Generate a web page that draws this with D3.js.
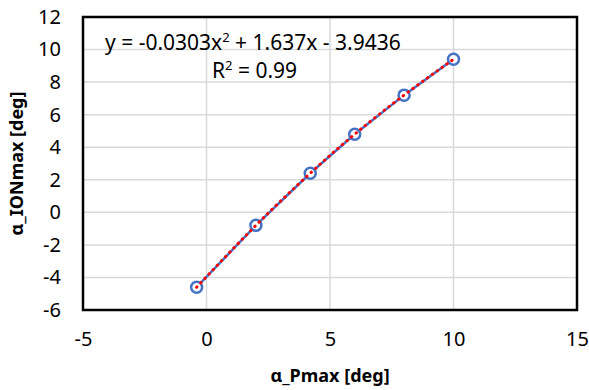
<!DOCTYPE html>
<html>
<head>
<meta charset="utf-8">
<script src="https://cdn.jsdelivr.net/npm/d3@7"></script>
<style>
  body { margin: 0; background: #fff; }
  text { font-family: "Noto Sans", sans-serif; }
</style>
</head>
<body>
<div id="chart"></div>
<script>
// data
var pmax = [-0.4, 2, 4.2, 6, 8, 10];
var ionmax = [-4.6, -0.8, 2.4, 4.8, 7.2, 9.4];
var xTicks = [-5, 0, 5, 10, 15];
var yTicks = [-6, -4, -2, 0, 2, 4, 6, 8, 10, 12];
var eqText = ['y = -0.0303x', '2', ' + 1.637x - 3.9436'];
var r2Text = ['R', '2', ' = 0.99'];

var W = 589, H = 390;
var m = { left: 83, right: 12, top: 17, bottom: 80 };

var svg = d3.select("#chart").append("svg")
  .attr("width", W)
  .attr("height", H);

var x = d3.scaleLinear().domain([-5, 15]).range([m.left, W - m.right]);
var y = d3.scaleLinear().domain([-6, 12]).range([H - m.bottom, m.top]);

// gridlines
svg.append("g").selectAll("line.v")
  .data(xTicks).enter().append("line")
  .attr("x1", function(d) { return x(d); })
  .attr("x2", function(d) { return x(d); })
  .attr("y1", y(-6)).attr("y2", y(12))
  .attr("stroke", "#d9d9d9").attr("stroke-width", 1.5);
svg.append("g").selectAll("line.h")
  .data(yTicks).enter().append("line")
  .attr("y1", function(d) { return y(d); })
  .attr("y2", function(d) { return y(d); })
  .attr("x1", x(-5)).attr("x2", x(15))
  .attr("stroke", "#d9d9d9").attr("stroke-width", 1.5);

// axes (labels only, border drawn as rect)
var fmt = function(d) { return String(d); };
var xAxis = svg.append("g")
  .attr("transform", "translate(0," + (H - m.bottom) + ")")
  .call(d3.axisBottom(x).tickValues(xTicks).tickFormat(fmt).tickSize(0).tickPadding(22));
var yAxis = svg.append("g")
  .attr("transform", "translate(" + m.left + ",0)")
  .call(d3.axisLeft(y).tickValues(yTicks).tickFormat(fmt).tickSize(0).tickPadding(22));
[xAxis, yAxis].forEach(function(a) {
  a.select(".domain").remove();
  a.selectAll("text").attr("font-size", "20px").attr("fill", "#000")
    .style("font-family", '"Noto Sans", sans-serif');
});

svg.append("rect")
  .attr("x", x(-5)).attr("y", y(12))
  .attr("width", x(15) - x(-5)).attr("height", y(-6) - y(12))
  .attr("fill", "none").attr("stroke", "#000").attr("stroke-width", 2.5);

var pts = pmax.map(function(d, i) { return [d, ionmax[i]]; });

// data line
var line = d3.line().x(function(d) { return x(d[0]); }).y(function(d) { return y(d[1]); });
svg.append("path")
  .datum(pts)
  .attr("d", line)
  .attr("fill", "none")
  .attr("stroke", "#4472c4")
  .attr("stroke-width", 2.5);

// markers
svg.append("g").selectAll("circle")
  .data(pts).enter().append("circle")
  .attr("cx", function(d) { return x(d[0]); })
  .attr("cy", function(d) { return y(d[1]); })
  .attr("r", 5.5)
  .attr("fill", "#fff")
  .attr("stroke", "#4472c4")
  .attr("stroke-width", 2.5);

// trendline (dotted red), drawn on top like excel does
var trend = d3.line().curve(d3.curveNatural)
  .x(function(d) { return x(d[0]); }).y(function(d) { return y(d[1]); });
svg.append("path")
  .datum(pts)
  .attr("d", trend)
  .attr("fill", "none")
  .attr("stroke", "#ff0000")
  .attr("stroke-width", 3)
  .attr("stroke-linecap", "round")
  .attr("stroke-dasharray", "0.5,5.5");

// equation labels
function supText(parts, tx, ty) {
  var t = svg.append("text").attr("x", tx).attr("y", ty).attr("font-size", "21px").attr("fill", "#000");
  t.append("tspan").text(parts[0]);
  t.append("tspan").attr("dy", -8).attr("font-size", "13px").text(parts[1]);
  t.append("tspan").attr("dy", 8).text(parts[2]);
}
supText(eqText, 105, 50);
supText(r2Text, 212, 78);

// axis titles
svg.append("text")
  .attr("x", (x(-5) + x(15)) / 2).attr("y", 382)
  .attr("text-anchor", "middle")
  .attr("font-size", "18px").attr("font-weight", "bold")
  .text("α_Pmax [deg]");
svg.append("text")
  .attr("transform", "translate(23," + ((y(-6) + y(12)) / 2) + ") rotate(-90)")
  .attr("text-anchor", "middle")
  .attr("font-size", "18px").attr("font-weight", "bold")
  .text("α_IONmax [deg]");
</script>
</body>
</html>
